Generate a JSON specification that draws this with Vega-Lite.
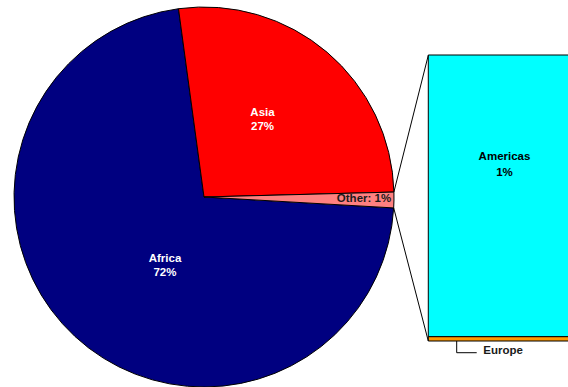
{
  "$schema": "https://vega.github.io/schema/vega-lite/v6.json",
  "width": 568,
  "height": 387,
  "autosize": {"type": "none"},
  "padding": 0,
  "background": "white",
  "config": {
    "view": {"stroke": null},
    "text": {"font": "Liberation Sans", "fontWeight": "bold", "fontSize": 11.5, "baseline": "middle", "align": "center"}
  },
  "datasets": {
    "pie": [
      {"region": "Africa", "share": 0.7194},
      {"region": "Asia", "share": 0.2673},
      {"region": "Other", "share": 0.0133}
    ],
    "other": [
      {"region": "Americas", "share": 0.0131},
      {"region": "Europe", "share": 0.0002}
    ],
    "one": [{}]
  },
  "layer": [
    {
      "data": {"name": "other"},
      "transform": [
        {"stack": "share", "groupby": [], "sort": [{"field": "region", "order": "descending"}], "as": ["lo", "hi"]}
      ],
      "mark": {"type": "rect", "stroke": "#000000", "strokeWidth": 1},
      "encoding": {
        "x": {"datum": 1.1805, "type": "quantitative", "scale": {"domain": [-1.0737, 1.9158], "nice": false, "zero": false}, "axis": null},
        "x2": {"datum": 2.1},
        "y": {"field": "lo", "type": "quantitative", "scale": {"domain": [-0.002139, 0.015858], "nice": false, "zero": false}, "axis": null},
        "y2": {"field": "hi"},
        "color": {"field": "region", "type": "nominal", "scale": {"domain": ["Americas", "Europe"], "range": ["#00FFFF", "#FF9900"]}, "legend": null}
      }
    },
    {
      "layer": [
        {
          "data": {"name": "pie"},
          "mark": {"type": "arc", "radius": 190, "stroke": "#000000", "strokeWidth": 1},
          "encoding": {
            "x": {"datum": 0, "type": "quantitative", "scale": {"domain": [-1.0737, 1.9158], "nice": false, "zero": false}, "axis": null},
            "y": {"datum": 0, "type": "quantitative", "scale": {"domain": [-1.0, 1.0368], "nice": false, "zero": false}, "axis": null},
            "theta": {"field": "share", "type": "quantitative", "stack": true, "scale": {"range": [1.6284, 7.9116]}},
            "color": {"field": "region", "type": "nominal", "scale": {"domain": ["Africa", "Asia", "Other"], "range": ["#000080", "#FF0000", "#FF8080"]}, "legend": null}
          }
        },
        {
          "data": {"name": "one"},
          "mark": {"type": "rule", "color": "#000000", "strokeWidth": 1},
          "encoding": {
            "x": {"datum": 0.9995, "type": "quantitative"},
            "y": {"datum": 0.0263, "type": "quantitative"},
            "x2": {"datum": 1.1805},
            "y2": {"datum": 0.7458}
          }
        },
        {
          "data": {"name": "one"},
          "mark": {"type": "rule", "color": "#000000", "strokeWidth": 1},
          "encoding": {
            "x": {"datum": 0.9984, "type": "quantitative"},
            "y": {"datum": -0.0574, "type": "quantitative"},
            "x2": {"datum": 1.1805},
            "y2": {"datum": -0.7579}
          }
        },
        {
          "data": {"name": "one"},
          "mark": {"type": "rule", "color": "#000000", "strokeWidth": 1},
          "encoding": {
            "x": {"datum": 1.33, "type": "quantitative"},
            "y": {"datum": -0.7579, "type": "quantitative"},
            "x2": {"datum": 1.33},
            "y2": {"datum": -0.8195}
          }
        },
        {
          "data": {"name": "one"},
          "mark": {"type": "rule", "color": "#000000", "strokeWidth": 1},
          "encoding": {
            "x": {"datum": 1.33, "type": "quantitative"},
            "y": {"datum": -0.8195, "type": "quantitative"},
            "x2": {"datum": 1.4353},
            "y2": {"datum": -0.8195}
          }
        },
        {
          "data": {"name": "one"},
          "mark": {"type": "text", "text": "Asia", "color": "#FFFFFF"},
          "encoding": {"x": {"datum": 0.3079, "type": "quantitative"}, "y": {"datum": 0.4447, "type": "quantitative"}}
        },
        {
          "data": {"name": "one"},
          "mark": {"type": "text", "text": "27%", "color": "#FFFFFF"},
          "encoding": {"x": {"datum": 0.3079, "type": "quantitative"}, "y": {"datum": 0.3658, "type": "quantitative"}}
        },
        {
          "data": {"name": "one"},
          "mark": {"type": "text", "text": "Africa", "color": "#FFFFFF"},
          "encoding": {"x": {"datum": -0.2053, "type": "quantitative"}, "y": {"datum": -0.3263, "type": "quantitative"}}
        },
        {
          "data": {"name": "one"},
          "mark": {"type": "text", "text": "72%", "color": "#FFFFFF"},
          "encoding": {"x": {"datum": -0.2053, "type": "quantitative"}, "y": {"datum": -0.4, "type": "quantitative"}}
        },
        {
          "data": {"name": "one"},
          "mark": {"type": "text", "text": "Other: 1%", "color": "#1a1a1a"},
          "encoding": {"x": {"datum": 0.8421, "type": "quantitative"}, "y": {"datum": -0.0105, "type": "quantitative"}}
        },
        {
          "data": {"name": "one"},
          "mark": {"type": "text", "text": "Americas", "color": "#000000"},
          "encoding": {"x": {"datum": 1.5816, "type": "quantitative"}, "y": {"datum": 0.2079, "type": "quantitative"}}
        },
        {
          "data": {"name": "one"},
          "mark": {"type": "text", "text": "1%", "color": "#000000"},
          "encoding": {"x": {"datum": 1.5816, "type": "quantitative"}, "y": {"datum": 0.1289, "type": "quantitative"}}
        },
        {
          "data": {"name": "one"},
          "mark": {"type": "text", "text": "Europe", "color": "#1a1a1a", "align": "left"},
          "encoding": {"x": {"datum": 1.47, "type": "quantitative"}, "y": {"datum": -0.8105, "type": "quantitative"}}
        }
      ]
    }
  ],
  "resolve": {"scale": {"y": "independent", "color": "independent"}}
}
